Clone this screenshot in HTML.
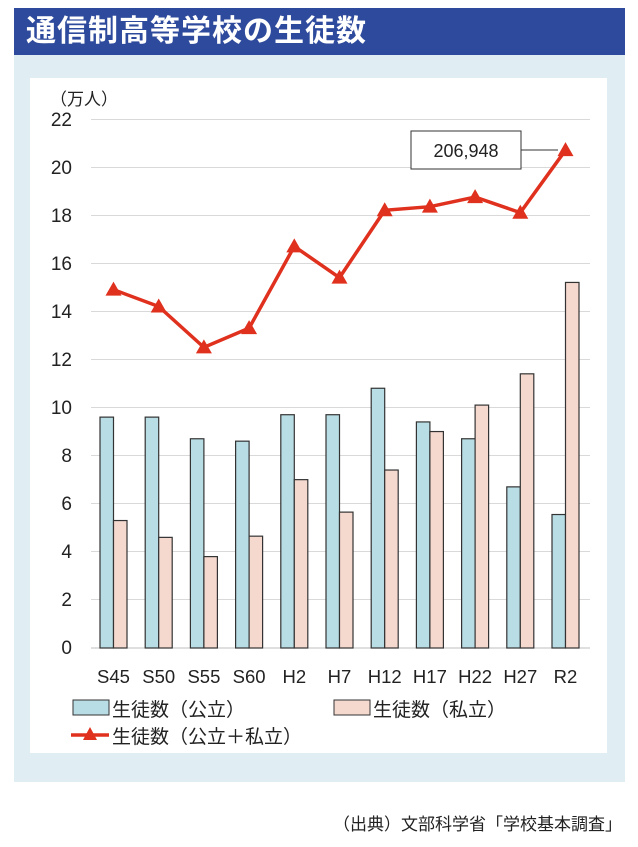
<!DOCTYPE html><html><head><meta charset="utf-8"><style>
body{margin:0;background:#fff;width:638px;height:847px;position:relative;font-family:"Liberation Sans","Noto Sans CJK JP",sans-serif;overflow:hidden}
.t{position:absolute;left:14px;top:8px;width:611px;height:47px;background:#2e4a9c;color:#fff;font-size:30px;font-weight:bold;line-height:47px;text-indent:12px;letter-spacing:1px}
.p{position:absolute;left:14px;top:55px;width:611px;height:727px;background:#e0edf3}
.w{position:absolute;left:30px;top:78px;width:577px;height:675px;background:#fff}
</style></head><body>
<div class="t">通信制高等学校の生徒数</div>
<div class="p"></div><div class="w"></div>
<svg style="position:absolute;left:0;top:0" width="638" height="847" font-family="Liberation Sans,Noto Sans CJK JP,sans-serif">
<g stroke="#d9d9d9" stroke-width="1">
<line x1="91" x2="590" y1="119.5" y2="119.5"/><line x1="91" x2="590" y1="167.5" y2="167.5"/><line x1="91" x2="590" y1="215.5" y2="215.5"/><line x1="91" x2="590" y1="263.5" y2="263.5"/><line x1="91" x2="590" y1="311.5" y2="311.5"/><line x1="91" x2="590" y1="359.5" y2="359.5"/><line x1="91" x2="590" y1="407.5" y2="407.5"/><line x1="91" x2="590" y1="455.5" y2="455.5"/><line x1="91" x2="590" y1="503.5" y2="503.5"/><line x1="91" x2="590" y1="551.5" y2="551.5"/><line x1="91" x2="590" y1="599.5" y2="599.5"/><line x1="91" x2="590" y1="648" y2="648" stroke="#bfbfbf"/>
</g>
<g font-size="19" fill="#222" text-anchor="end">
<text x="72" y="126">22</text><text x="72" y="174">20</text><text x="72" y="222">18</text><text x="72" y="270">16</text><text x="72" y="318">14</text><text x="72" y="366">12</text><text x="72" y="414">10</text><text x="72" y="462">8</text><text x="72" y="510">6</text><text x="72" y="558">4</text><text x="72" y="606">2</text><text x="72" y="654">0</text>
</g>
<text x="50" y="105" font-size="17" fill="#222">（万人）</text>
<g id="bars" stroke="#333" stroke-width="1.2"></g>
<g font-size="18.5" fill="#222" text-anchor="middle" id="xl"></g>
<polyline id="ln" fill="none" stroke="#e0301e" stroke-width="3.5"/>
<g id="tri" fill="#e0301e"></g>
<rect x="411" y="131" width="110" height="38" fill="#fff" stroke="#333"/>
<line x1="521" y1="150" x2="558" y2="150" stroke="#333"/>
<text x="466" y="157" font-size="18" fill="#222" text-anchor="middle">206,948</text>
<rect x="73" y="700" width="36" height="15" fill="#b8dde5" stroke="#333"/>
<text x="112" y="716" font-size="19" fill="#222">生徒数（公立）</text>
<rect x="334" y="700" width="36" height="15" fill="#f5d9cf" stroke="#333"/>
<text x="373" y="716" font-size="19" fill="#222">生徒数（私立）</text>
<line x1="71" y1="735" x2="109" y2="735" stroke="#e0301e" stroke-width="3.5"/>
<polygon points="90,727 83,740 97,740" fill="#e0301e"/>
<text x="112" y="743" font-size="19" fill="#222">生徒数（公立＋私立）</text>
<text x="622" y="830" font-size="17" fill="#222" text-anchor="end">（出典）文部科学省「学校基本調査」</text>
</svg>
<script>
var pub=[9.6,9.6,8.7,8.6,9.7,9.7,10.8,9.4,8.7,6.7,5.55],pri=[5.3,4.6,3.8,4.65,7.0,5.65,7.4,9.0,10.1,11.4,15.2],tot=[14.9,14.2,12.5,13.3,16.7,15.4,18.2,18.35,18.75,18.1,20.7],lab=["S45","S50","S55","S60","H2","H7","H12","H17","H22","H27","R2"];
var ns="http://www.w3.org/2000/svg",b=document.getElementById("bars"),xl=document.getElementById("xl"),tr=document.getElementById("tri"),pts=[];
function Y(v){return 648-v*24.05}
function el(t,a,p){var e=document.createElementNS(ns,t);for(var k in a)e.setAttribute(k,a[k]);p.appendChild(e);return e}
for(var i=0;i<11;i++){var c=113.5+i*45.2;
el("rect",{x:c-13.5,y:Y(pub[i]),width:13.5,height:pub[i]*24.05,fill:"#b8dde5"},b);
el("rect",{x:c,y:Y(pri[i]),width:13.5,height:pri[i]*24.05,fill:"#f5d9cf"},b);
el("text",{x:c,y:683},xl).textContent=lab[i];
var y=Y(tot[i]);pts.push(c+","+y);
el("polygon",{points:c+","+(y-8)+" "+(c-8)+","+(y+6)+" "+(c+8)+","+(y+6)},tr);}
document.getElementById("ln").setAttribute("points",pts.join(" "));
</script>
</body></html>
